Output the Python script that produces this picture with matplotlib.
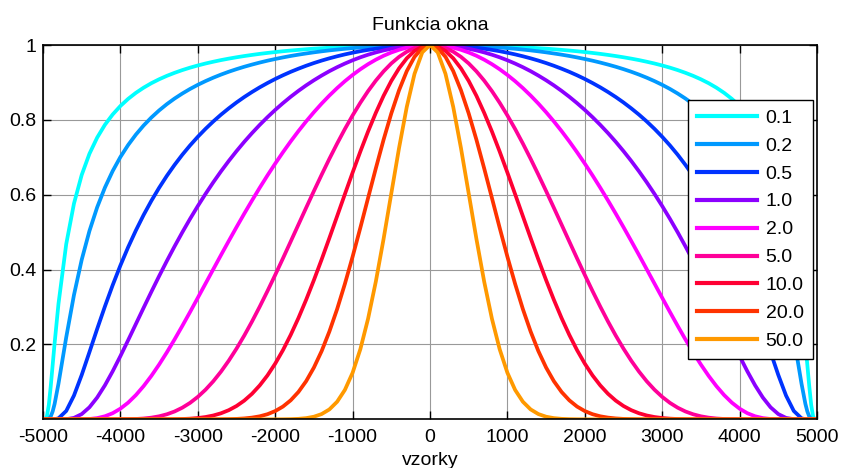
import numpy as np
import matplotlib
matplotlib.use("Agg")
import matplotlib.pyplot as plt

plt.rcParams['font.family'] = ['Liberation Sans', 'DejaVu Sans']
plt.rcParams['axes.unicode_minus'] = False

# sample positions of the left half (samples); the window is symmetric about 0
x_edge = [-5000, -4975, -4950, -4925, -4900, -4875, -4850]
x_main = list(range(-4800, 1, 100))
x_half = x_edge + x_main

labels = ['0.1', '0.2', '0.5', '1.0', '2.0', '5.0', '10.0', '20.0', '50.0']

# values, ordered from x=-5000 to x=0
w_01 = [0, 0.00005, 0.0073, 0.0384, 0.0885, 0.1458, 0.2035,
        0.3087, 0.4681, 0.5764, 0.6529, 0.7095, 0.7527, 0.7869, 0.8144, 0.8371, 0.8561,
        0.8722, 0.8860, 0.8980, 0.9084, 0.9176, 0.9257, 0.9330, 0.9395, 0.9453, 0.9506,
        0.9553, 0.9597, 0.9636, 0.9672, 0.9705, 0.9735, 0.9763, 0.9788, 0.9811, 0.9833,
        0.9852, 0.9870, 0.9887, 0.9902, 0.9915, 0.9928, 0.9939, 0.9949, 0.9958, 0.9967,
        0.9974, 0.9980, 0.9985, 0.9990, 0.9994, 0.9996, 0.9998, 1.0, 1.0]
w_02 = [0, 0, 0.00005, 0.0015, 0.0078, 0.0213, 0.0414,
        0.0953, 0.2191, 0.3322, 0.4263, 0.5033, 0.5666, 0.6192, 0.6633, 0.7008, 0.7329,
        0.7607, 0.7850, 0.8063, 0.8252, 0.8420, 0.8570, 0.8704, 0.8826, 0.8936, 0.9036,
        0.9127, 0.9210, 0.9286, 0.9355, 0.9419, 0.9477, 0.9531, 0.9581, 0.9626, 0.9668,
        0.9707, 0.9742, 0.9774, 0.9804, 0.9831, 0.9856, 0.9878, 0.9899, 0.9917, 0.9933,
        0.9948, 0.9960, 0.9971, 0.9980, 0.9987, 0.9993, 0.9997, 0.9999, 1.0]
w_05 = [0, 0, 0, 0, 0, 0.00007, 0.00035,
        0.0028, 0.0225, 0.0636, 0.1186, 0.1797, 0.2417, 0.3017, 0.3584, 0.4111, 0.4599,
        0.5047, 0.5460, 0.5838, 0.6185, 0.6505, 0.6798, 0.7069, 0.7318, 0.7548, 0.7761,
        0.7958, 0.8140, 0.8308, 0.8465, 0.8610, 0.8744, 0.8869, 0.8984, 0.9092, 0.9191,
        0.9283, 0.9367, 0.9446, 0.9518, 0.9584, 0.9644, 0.9699, 0.9749, 0.9794, 0.9834,
        0.9870, 0.9901, 0.9927, 0.9950, 0.9968, 0.9982, 0.9992, 0.9998, 1.0]
w_1 = [0, 0, 0, 0, 0, 0, 0,
       0.00001, 0.0005, 0.0040, 0.0141, 0.0323, 0.0584, 0.0910, 0.1284, 0.1690, 0.2115,
       0.2548, 0.2981, 0.3408, 0.3826, 0.4231, 0.4622, 0.4997, 0.5356, 0.5698, 0.6023,
       0.6333, 0.6626, 0.6903, 0.7165, 0.7413, 0.7646, 0.7866, 0.8072, 0.8266, 0.8447,
       0.8617, 0.8775, 0.8922, 0.9058, 0.9184, 0.9301, 0.9407, 0.9504, 0.9592, 0.9671,
       0.9741, 0.9802, 0.9855, 0.9900, 0.9936, 0.9964, 0.9984, 0.9996, 1.0]
w_2 = [0, 0, 0, 0, 0, 0, 0,
       0, 0, 0.00002, 0.0002, 0.00104, 0.0034, 0.0083, 0.0165, 0.0286, 0.0447,
       0.0649, 0.0889, 0.1162, 0.1464, 0.1790, 0.2136, 0.2497, 0.2868, 0.3247, 0.3628,
       0.4010, 0.4390, 0.4765, 0.5134, 0.5495, 0.5846, 0.6187, 0.6516, 0.6832, 0.7135,
       0.7425, 0.7700, 0.7960, 0.8205, 0.8435, 0.8650, 0.8849, 0.9033, 0.9200, 0.9352,
       0.9488, 0.9608, 0.9712, 0.9800, 0.9872, 0.9928, 0.9968, 0.9992, 1.0]
w_5 = [0, 0, 0, 0, 0, 0, 0,
       0, 0, 0, 0, 0, 0, 0, 0.000035, 0.00014, 0.00042,
       0.00107, 0.00235, 0.0046, 0.0082, 0.0136, 0.0211, 0.0312, 0.0441, 0.0601, 0.0793,
       0.1018, 0.1277, 0.1568, 0.1889, 0.2238, 0.2613, 0.3011, 0.3427, 0.3858, 0.4300,
       0.4750, 0.5202, 0.5653, 0.6099, 0.6535, 0.6960, 0.7367, 0.7755, 0.8119, 0.8458,
       0.8769, 0.9049, 0.9296, 0.9508, 0.9683, 0.9821, 0.9920, 0.9980, 1.0]
w_10 = [0, 0, 0, 0, 0, 0, 0,
        0, 0, 0, 0, 0, 0, 0, 0, 0, 0,
        0, 0, 0, 0.00007, 0.00018, 0.00044, 0.00097, 0.00194, 0.0036, 0.0063,
        0.0104, 0.0163, 0.0246, 0.0357, 0.0501, 0.0683, 0.0907, 0.1174, 0.1489, 0.1849,
        0.2256, 0.2706, 0.3196, 0.3720, 0.4271, 0.4844, 0.5427, 0.6014, 0.6592, 0.7154,
        0.7690, 0.8188, 0.8642, 0.9040, 0.9376, 0.9645, 0.9841, 0.9960, 1.0]
w_20 = [0, 0, 0, 0, 0, 0, 0,
        0, 0, 0, 0, 0, 0, 0, 0, 0, 0,
        0, 0, 0, 0, 0, 0, 0, 0, 0, 0,
        0.00011, 0.00027, 0.0006, 0.00127, 0.0025, 0.0047, 0.0082, 0.0138, 0.0222, 0.0342,
        0.0509, 0.0732, 0.1021, 0.1384, 0.1824, 0.2347, 0.2945, 0.3617, 0.4345, 0.5118,
        0.5914, 0.6704, 0.7468, 0.8172, 0.8791, 0.9303, 0.9684, 0.9920, 1.0]
w_50 = [0, 0, 0, 0, 0, 0, 0,
        0, 0, 0, 0, 0, 0, 0, 0, 0, 0,
        0, 0, 0, 0, 0, 0, 0, 0, 0, 0,
        0, 0, 0, 0, 0, 0, 0, 0, 0.00007, 0.00022,
        0.00058, 0.00145, 0.0033, 0.0071, 0.0142, 0.0266, 0.0471, 0.0786, 0.1245, 0.1874,
        0.2689, 0.3680, 0.4817, 0.6035, 0.7247, 0.8347, 0.9230, 0.9802, 1.0]

series = [w_01, w_02, w_05, w_1, w_2, w_5, w_10, w_20, w_50]
colors = ['#00FFFF', '#0099FF', '#0033FF', '#8C00FF', '#FF00FF',
          '#FF0099', '#FF0033', '#FF3300', '#FF9900']

xticks = [-5000, -4000, -3000, -2000, -1000, 0, 1000, 2000, 3000, 4000, 5000]
xticklabels = ['-5000', '-4000', '-3000', '-2000', '-1000', '0',
               '1000', '2000', '3000', '4000', '5000']
yticks = [0.2, 0.4, 0.6, 0.8, 1.0]
yticklabels = ['0.2', '0.4', '0.6', '0.8', '1']

xh = np.array(x_half, dtype=float)
x_full = np.concatenate([xh, -xh[-2::-1]])

fig = plt.figure(figsize=(8.44, 4.68), dpi=100)
ax = fig.add_axes([43/844, 1 - 419/468, (817 - 43)/844, (419 - 45)/468])

for lab, vals, col in zip(labels, series, colors):
    v = np.array(vals, dtype=float)
    if len(v) != len(xh):
        raise ValueError(f"series {lab}: {len(v)} values, expected {len(xh)}")
    y_full = np.concatenate([v, v[-2::-1]])
    ax.plot(x_full, y_full, color=col, lw=2.7, label=lab, solid_joinstyle='round')

ax.set_xlim(-5000, 5000)
ax.set_ylim(0.001, 1)
ax.set_xticks(xticks)
ax.set_xticklabels(xticklabels)
ax.set_yticks(yticks)
ax.set_yticklabels(yticklabels)
ax.grid(True, color='#999999', lw=0.8)
ax.set_axisbelow(True)
ax.tick_params(direction='in', top=True, right=True, length=5.5, width=1,
               labelsize=14, colors='black')
ax.tick_params(axis='x', pad=7)
ax.tick_params(axis='y', pad=5)
for s in ax.spines.values():
    s.set_linewidth(1.2)
    s.set_color('black')

ax.set_title('Funkcia okna', fontsize=14, pad=10.5)
ax.set_xlabel('vzorky', fontsize=14, labelpad=4.5)

leg = ax.legend(loc='upper right', bbox_to_anchor=(812.7/844, 1 - 100/468),
                bbox_transform=fig.transFigure, borderaxespad=0,
                fontsize=14, handlelength=3.1, handletextpad=0.42,
                labelspacing=0.53, borderpad=0.47, fancybox=False,
                framealpha=1, edgecolor='black')
leg.get_frame().set_linewidth(1.0)
for line in leg.get_lines():
    line.set_linewidth(3)

fig.savefig('out.png', dpi=100)
